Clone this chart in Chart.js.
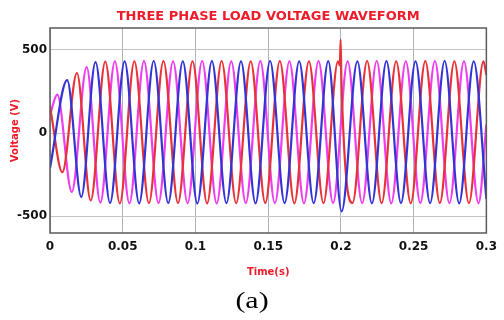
<!DOCTYPE html>
<html lang="en">

<head>
  <meta charset="UTF-8">
  <script src="https://cdn.jsdelivr.net/npm/chart.js"></script>
  <title>Three phase load voltage</title>
  <style>
    body { margin: 0; background: #fff; }
    #wrap { position: relative; width: 504px; height: 320px; }
    #cap { position: absolute; left: 0; width: 504px; top: 288px; text-align: center;
           font-family: "Liberation Serif", serif; font-size: 23px; color: #000;
           transform: scaleX(1.3); }
  </style>
</head>

<body>

  <div id="wrap">
    <canvas id="myChart"></canvas>
    <div id="cap">(a)</div>
  </div>

  <script>
    // tick labels
    const xTicks = [0, 0.05, 0.1, 0.15, 0.2, 0.25, 0.3];
    const yTicks = [-500, 0, 500];

    // phase voltages, read at the peaks / troughs of each wave (time in s, volts)
    const blueTime = [0, 0.0118, 0.0215, 0.0313, 0.0413, 0.0513, 0.0613, 0.0713, 0.0813, 0.0913, 0.1013,
      0.1113, 0.1213, 0.1313, 0.1413, 0.1513, 0.1613, 0.1713, 0.1813, 0.1913, 0.2005, 0.2113, 0.2213,
      0.2313, 0.2413, 0.2513, 0.2613, 0.2713, 0.2813, 0.2913, 0.3];
    const blueVolt = [-210, 317, -383, 425, -420, 430, -422, 432, -420, 430, -423, 431, -421, 430, -422,
      432, -420, 430, -421, 431, -470, 430, -422, 431, -420, 430, -421, 432, -422, 430, -395];

    const redTime = [0, 0.0085, 0.0185, 0.028, 0.038, 0.048, 0.058, 0.068, 0.078, 0.088, 0.098, 0.108,
      0.118, 0.128, 0.138, 0.148, 0.158, 0.168, 0.178, 0.188, 0.198, 0.1993, 0.1998, 0.2003, 0.208,
      0.218, 0.228, 0.238, 0.248, 0.258, 0.268, 0.278, 0.288, 0.298, 0.3];
    const redVolt = [160, -235, 360, -405, 428, -422, 430, -421, 431, -420, 430, -422, 432, -421, 430,
      -420, 431, -422, 430, -421, 430, 405, 560, 330, -420, 431, -421, 430, -422, 431, -420, 430, -421,
      430, 348];

    const magTime = [0, 0.005, 0.015, 0.0252, 0.0346, 0.0446, 0.0546, 0.0646, 0.0746, 0.0846, 0.0946,
      0.1046, 0.1146, 0.1246, 0.1346, 0.1446, 0.1546, 0.1646, 0.1746, 0.1846, 0.1946, 0.2046, 0.2146,
      0.2246, 0.2346, 0.2446, 0.2546, 0.2646, 0.2746, 0.2846, 0.2946, 0.3];
    const magVolt = [110, 230, -353, 395, -418, 430, -422, 431, -420, 430, -421, 432, -422, 430, -420,
      431, -421, 430, -422, 431, -420, 430, -421, 432, -422, 430, -420, 431, -421, 430, -422, 50];

    function pts(t, v) {
      return t.map((x, i) => ({ x: x, y: v[i] }));
    }

    const boxPlugin = {
      id: 'box',
      afterDraw(chart) {
        const a = chart.chartArea;
        const ctx = chart.ctx;
        ctx.save();
        ctx.strokeStyle = '#5a5a5a';
        ctx.lineWidth = 1.5;
        ctx.strokeRect(a.left, a.top, a.right - a.left, a.bottom - a.top);
        ctx.restore();
      }
    };

    const txt = 'DejaVu Sans';

    const myChart = new Chart(
      document.getElementById('myChart'),
      {
        type: 'line',
        data: {
          datasets: [{
            label: 'Vb',
            borderColor: '#3434d6',
            data: pts(blueTime, blueVolt)
          }, {
            label: 'Va',
            borderColor: '#e83238',
            data: pts(redTime, redVolt)
          }, {
            label: 'Vc',
            borderColor: '#ee3cee',
            data: pts(magTime, magVolt)
          }]
        },
        options: {
          responsive: true,
          maintainAspectRatio: false,
          animation: false,
          elements: {
            point: { radius: 0 },
            line: { borderWidth: 2.2, cubicInterpolationMode: 'monotone' }
          },
          layout: { padding: { left: 0, right: 10, top: 0, bottom: 0 } },
          plugins: {
            legend: { display: false },
            tooltip: { enabled: false },
            title: {
              display: true,
              fullSize: false,
              text: 'THREE PHASE LOAD VOLTAGE WAVEFORM',
              color: '#ee1c2a',
              font: { family: txt, size: 13, weight: 'bold' },
              padding: { top: 9, bottom: 3.4 }
            }
          },
          scales: {
            x: {
              type: 'linear',
              min: 0,
              max: 0.3,
              afterBuildTicks: (s) => { s.ticks = xTicks.map(v => ({ value: v })); },
              afterFit: (s) => { s.height = 87; },
              grid: { color: '#aeb2c4', drawTicks: false },
              border: { display: false },
              ticks: {
                color: '#111',
                padding: 7,
                maxRotation: 0,
                font: { family: txt, size: 12, weight: 'bold' },
                callback: (v) => String(v)
              },
              title: {
                display: true,
                text: 'Time(s)',
                color: '#ee1c2a',
                font: { family: txt, size: 10, weight: 'bold' },
                padding: { top: 0, bottom: 42 }
              }
            },
            y: {
              min: -600,
              max: 630,
              afterBuildTicks: (s) => { s.ticks = yTicks.map(v => ({ value: v })); },
              afterFit: (s) => { s.width = 50; },
              grid: { color: '#c3c3c8', drawTicks: false },
              border: { display: false },
              ticks: {
                color: '#111',
                padding: 3,
                font: { family: txt, size: 12, weight: 'bold' }
              },
              title: {
                display: true,
                text: 'Voltage (V)',
                color: '#ee1c2a',
                font: { family: txt, size: 10, weight: 'bold' },
                padding: { top: 9, bottom: 0 }
              }
            }
          }
        },
        plugins: [boxPlugin]
      }
    );
  </script>

</body>

</html>
